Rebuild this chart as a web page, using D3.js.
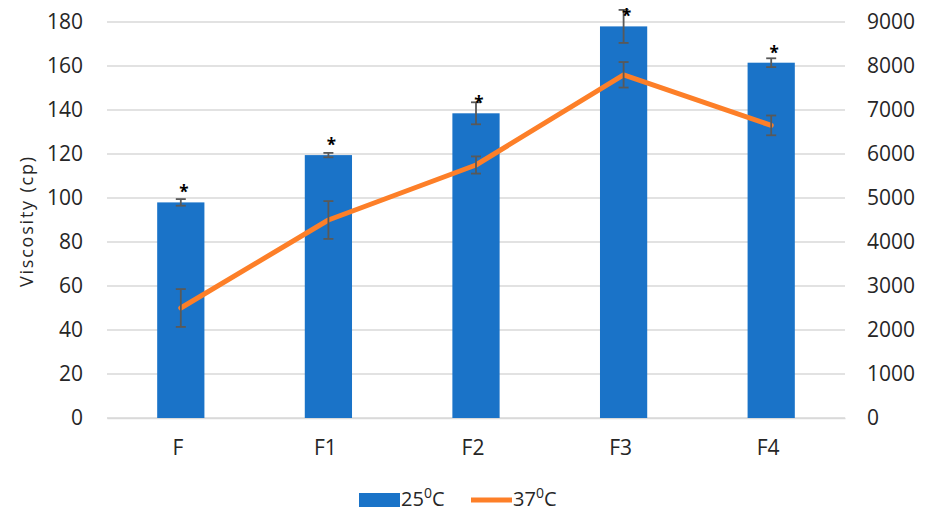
<!DOCTYPE html>
<html>
<head>
<meta charset="utf-8">
<script src="https://cdn.jsdelivr.net/npm/d3@7"></script>
<style>
  body { margin: 0; background: #fff; }
  text { font-family: "Open Sans", "DejaVu Sans", sans-serif; fill: #262626; }
</style>
</head>
<body>
<div class="chart"></div>
<script>
const categories = ["F", "F1", "F2", "F3", "F4"];
const visc25 = [98, 119.5, 138.5, 178, 161.5];
const err25 = [1.5, 1, 5, 7.5, 2];
const visc37 = [2500, 4500, 5750, 7800, 6650];
const err37 = [430, 430, 195, 290, 225];
const leftTicks = [0, 20, 40, 60, 80, 100, 120, 140, 160, 180];
const rightTicks = [0, 1000, 2000, 3000, 4000, 5000, 6000, 7000, 8000, 9000];

const W = 925, H = 511;
const margin = { top: 22, right: 80, bottom: 93, left: 107 };
const width = W - margin.left - margin.right;
const height = H - margin.top - margin.bottom;

const blue = "#1a73c8";
const orange = "#fd7f28";

const svg = d3.select('.chart')
  .append('svg')
  .attr('width', W)
  .attr('height', H);

const g = svg.append('g')
  .attr('transform', `translate(${margin.left}, ${margin.top})`);

const xScale = d3.scaleBand()
  .domain(categories)
  .range([0, width])
  .paddingInner(0.68)
  .paddingOuter(0.34);

const yLeft = d3.scaleLinear().domain([0, 180]).range([height, 0]);
const yRight = d3.scaleLinear().domain([0, 9000]).range([height, 0]);

// gridlines
g.append('g')
  .selectAll('line')
  .data(leftTicks)
  .enter()
  .append('line')
  .attr('x1', 0)
  .attr('x2', width)
  .attr('y1', d => yLeft(d))
  .attr('y2', d => yLeft(d))
  .attr('stroke', '#d9d9d9')
  .attr('stroke-width', 1.5);

// left axis
const yAxisL = d3.axisLeft(yLeft).tickValues(leftTicks).tickSize(0).tickPadding(24);
g.append('g').call(yAxisL)
  .call(s => s.select('.domain').remove())
  .selectAll('text')
  .style('font-size', '21px')
  .style('fill', '#262626');

// right axis
const yAxisR = d3.axisRight(yRight).tickValues(rightTicks).tickSize(0).tickPadding(22)
  .tickFormat(d3.format('d'));
g.append('g')
  .attr('transform', `translate(${width}, 0)`)
  .call(yAxisR)
  .call(s => s.select('.domain').remove())
  .selectAll('text')
  .style('font-size', '21px')
  .style('fill', '#262626');

// x axis
const xAxis = d3.axisBottom(xScale).tickSize(0).tickPadding(22);
g.append('g')
  .attr('transform', `translate(0, ${height})`)
  .call(xAxis)
  .call(s => s.select('.domain').attr('stroke', '#d9d9d9').attr('stroke-width', 1.5))
  .selectAll('text')
  .attr('dx', -3)
  .style('font-size', '21px')
  .style('fill', '#262626');

// bars
g.selectAll('rect.bar')
  .data(visc25)
  .enter()
  .append('rect')
  .attr('class', 'bar')
  .attr('x', (d, i) => xScale(categories[i]))
  .attr('y', d => yLeft(d))
  .attr('width', xScale.bandwidth())
  .attr('height', d => height - yLeft(d))
  .attr('fill', blue);

const cx = i => xScale(categories[i]) + xScale.bandwidth() / 2;

function errorBars(vals, errs, scale) {
  const eg = g.append('g').attr('stroke', '#595959').attr('stroke-width', 1.8);
  vals.forEach((v, i) => {
    const x = cx(i);
    const y0 = scale(v - errs[i]), y1 = scale(v + errs[i]);
    eg.append('line').attr('x1', x).attr('x2', x).attr('y1', y0).attr('y2', y1);
    eg.append('line').attr('x1', x - 5).attr('x2', x + 5).attr('y1', y0).attr('y2', y0);
    eg.append('line').attr('x1', x - 5).attr('x2', x + 5).attr('y1', y1).attr('y2', y1);
  });
}

errorBars(visc25, err25, yLeft);

// line
const line = d3.line()
  .x((d, i) => cx(i))
  .y(d => yRight(d));

g.append('path')
  .datum(visc37)
  .attr('d', line)
  .attr('fill', 'none')
  .attr('stroke', orange)
  .attr('stroke-width', 5)
  .attr('stroke-linejoin', 'round')
  .attr('stroke-linecap', 'round');

errorBars(visc37, err37, yRight);

// significance markers
g.selectAll('text.star')
  .data(visc25)
  .enter()
  .append('text')
  .attr('class', 'star')
  .attr('x', (d, i) => cx(i) + 3)
  .attr('y', d => yLeft(d) - 4)
  .attr('text-anchor', 'middle')
  .style('font-size', '17px')
  .style('font-weight', 'bold')
  .style('fill', '#000')
  .text('*');

// y title
svg.append('text')
  .attr('transform', `translate(33, ${margin.top + height / 2 + 2}) rotate(-90)`)
  .attr('text-anchor', 'middle')
  .attr('textLength', 130)
  .style('font-size', '18px')
  .text('Viscosity (cp)');

// legend
const leg = svg.append('g');
leg.append('rect')
  .attr('x', 359).attr('y', 493)
  .attr('width', 41).attr('height', 14)
  .attr('fill', blue);
const t1 = leg.append('text').attr('x', 401).attr('y', 506).style('font-size', '20px');
t1.append('tspan').text('25');
t1.append('tspan').attr('dy', -8).style('font-size', '14px').text('0');
t1.append('tspan').attr('dy', 8).text('C');

leg.append('line')
  .attr('x1', 471).attr('x2', 512)
  .attr('y1', 500).attr('y2', 500)
  .attr('stroke', orange).attr('stroke-width', 5);
const t2 = leg.append('text').attr('x', 513).attr('y', 506).style('font-size', '20px');
t2.append('tspan').text('37');
t2.append('tspan').attr('dy', -8).style('font-size', '14px').text('0');
t2.append('tspan').attr('dy', 8).text('C');
</script>
</body>
</html>
